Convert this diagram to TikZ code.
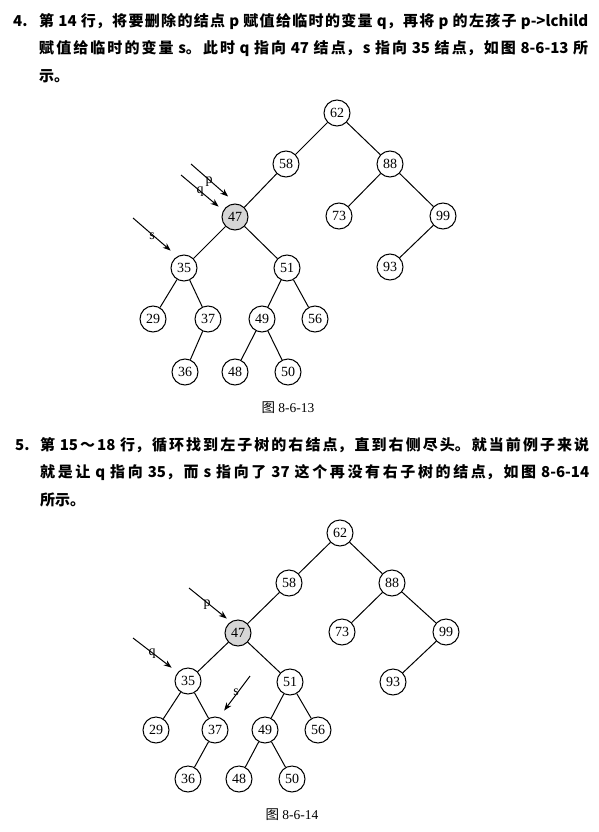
\documentclass[tikz,border=0pt]{standalone}
\usepackage{fontspec}
\setmainfont{Liberation Serif}
\newfontfamily\cjkfont{Noto Sans CJK SC}
\usetikzlibrary{arrows.meta}
\XeTeXlinebreaklocale "zh"
\XeTeXlinebreakskip = 0pt plus 3pt

\begin{document}
\begin{tikzpicture}[x=1pt,y=-1pt,
    key/.style={circle,draw,line width=1pt,minimum size=26pt,inner sep=0pt,font=\fontsize{14}{14}\selectfont},
    hit/.style={key,fill=gray!32},
    ptr/.style={line width=1pt,-{Stealth[length=8pt,width=6pt]}},
    lbl/.style={inner sep=0pt,font=\fontsize{14}{14}\selectfont},
    para/.style={anchor=base west,inner sep=0pt,text width=549pt,align=justify,font=\cjkfont\bfseries\fontsize{15}{27.5}\selectfont},
    figcap/.style={inner sep=0pt,font=\fontsize{13.5}{13.5}\selectfont}]
        \useasboundingbox (0,0) rectangle (598,832);

        % Draw the first paragraph
        \node[para,text width=20pt] (no4) at (13,26.5) {4.};
        \node[para] (text4) at (39,26.5) {第 14 行，将要删除的结点 p 赋值给临时的变量 q，再将 p 的左孩子 p->lchild\linebreak
        赋值给临时的变量 s。此时 q 指向 47 结点，s 指向 35 结点，如图 8-6-13 所\linebreak 示。};

        % Draw the first tree
        \node[key] (a62) at (337,113) {62};
        \node[key] (a58) at (286,164) {58};
        \node[key] (a88) at (390,164) {88};
        \node[hit] (a47) at (235,217) {47};
        \node[key] (a73) at (339,216) {73};
        \node[key] (a99) at (443,216) {99};
        \node[key] (a35) at (184,268) {35};
        \node[key] (a51) at (287,268) {51};
        \node[key] (a93) at (390,267) {93};
        \node[key] (a29) at (153,319) {29};
        \node[key] (a37) at (208,319) {37};
        \node[key] (a49) at (262,319) {49};
        \node[key] (a56) at (315,319) {56};
        \node[key] (a36) at (185,372) {36};
        \node[key] (a48) at (235,372) {48};
        \node[key] (a50) at (288,372) {50};
        \draw[line width=1pt] (a62) -- (a58) (a62) -- (a88) (a58) -- (a47) (a88) -- (a73) (a88) -- (a99)
            (a47) -- (a35) (a47) -- (a51) (a99) -- (a93) (a35) -- (a29) (a35) -- (a37)
            (a51) -- (a49) (a51) -- (a56) (a37) -- (a36) (a49) -- (a48) (a49) -- (a50);

        % Draw the pointers p, q, s
        \coordinate (ap) at (191,164);
        \coordinate (aq) at (181,175);
        \coordinate (as) at (133,218);
        \draw[ptr,shorten >=10.7pt] (ap) -- (a47.85);
        \draw[ptr,shorten >=6pt] (aq) -- (a47.151);
        \draw[ptr,shorten >=8.7pt] (as) -- (a35.120);
        \node[lbl] (lp1) at (209,182) {p};
        \node[lbl] (lq1) at (200,192) {q};
        \node[lbl] (ls1) at (152,236) {s};

        \node[figcap] (cap13) at (288,408) {{\cjkfont 图}\ 8-6-13};

        % Draw the second paragraph
        \node[para,text width=20pt] (no5) at (15,450) {5.};
        \node[para] (text5) at (40,450) {第 15～18 行，循环找到左子树的右结点，直到右侧尽头。就当前例子来说\linebreak
        就是让 q 指向 35，而 s 指向了 37 这个再没有右子树的结点，如图 8-6-14\linebreak 所示。};

        % Draw the second tree
        \node[key] (b62) at (340,533) {62};
        \node[key] (b58) at (289,583) {58};
        \node[key] (b88) at (392,583) {88};
        \node[hit] (b47) at (238,633) {47};
        \node[key] (b73) at (342,632) {73};
        \node[key] (b99) at (446,632) {99};
        \node[key] (b35) at (188,681) {35};
        \node[key] (b51) at (290,682) {51};
        \node[key] (b93) at (393,682) {93};
        \node[key] (b29) at (156,730) {29};
        \node[key] (b37) at (215,730) {37};
        \node[key] (b49) at (265,730) {49};
        \node[key] (b56) at (318,730) {56};
        \node[key] (b36) at (188,779) {36};
        \node[key] (b48) at (239,779) {48};
        \node[key] (b50) at (292,779) {50};
        \draw[line width=1pt] (b62) -- (b58) (b62) -- (b88) (b58) -- (b47) (b88) -- (b73) (b88) -- (b99)
            (b47) -- (b35) (b47) -- (b51) (b99) -- (b93) (b35) -- (b29) (b35) -- (b37)
            (b51) -- (b49) (b51) -- (b56) (b37) -- (b36) (b49) -- (b48) (b49) -- (b50);

        % Draw the pointers p, q, s
        \coordinate (bp) at (189,588);
        \coordinate (bq) at (133,638);
        \coordinate (bs) at (250,676);
        \draw[ptr,shorten >=5pt] (bp) -- (b47.123);
        \draw[ptr,shorten >=7.6pt] (bq) -- (b35.140);
        \draw[ptr,shorten >=8.3pt] (bs) -- (b37.72);
        \node[lbl] (lp2) at (207,605) {p};
        \node[lbl] (lq2) at (152,654) {q};
        \node[lbl] (ls2) at (236,692) {s};

        \node[figcap] (cap14) at (292,815) {{\cjkfont 图}\ 8-6-14};

\end{tikzpicture}
\end{document}
